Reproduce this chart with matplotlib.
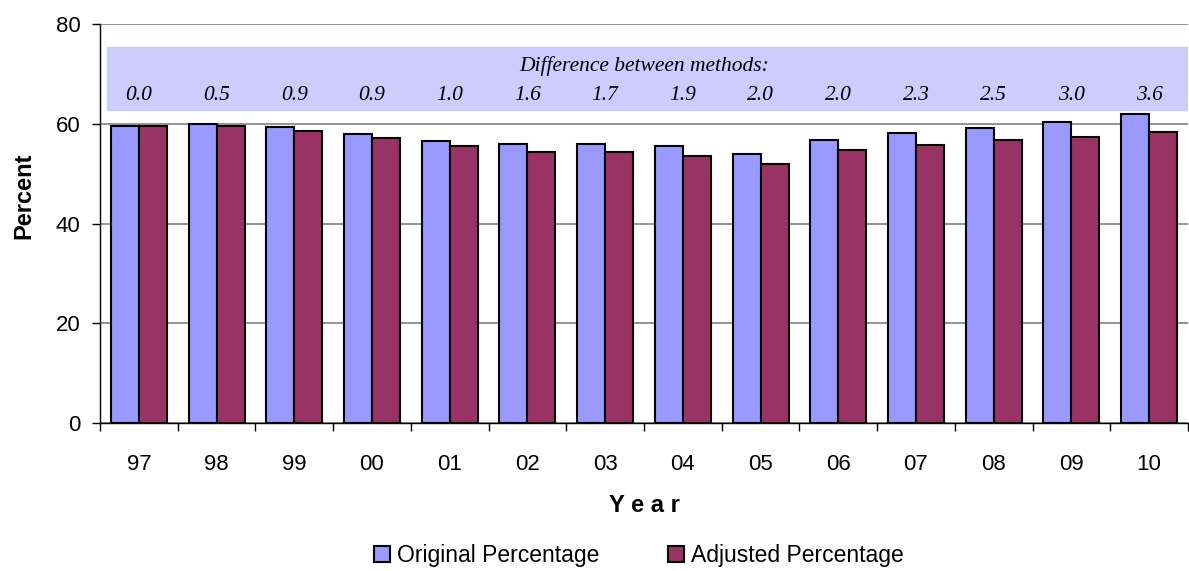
import numpy as np
import matplotlib.pyplot as plt
from matplotlib.ticker import FixedLocator

# Datos
years = ['97', '98', '99', '00', '01', '02', '03', '04', '05', '06', '07', '08', '09', '10']
original = [59.6, 60.0, 59.4, 58.0, 56.6, 56.0, 56.0, 55.5, 54.0, 56.8, 58.1, 59.2, 60.3, 62.0]
adjusted = [59.6, 59.5, 58.5, 57.1, 55.6, 54.4, 54.3, 53.6, 52.0, 54.8, 55.8, 56.7, 57.3, 58.4]
diffs = ['0.0', '0.5', '0.9', '0.9', '1.0', '1.6', '1.7', '1.9', '2.0', '2.0', '2.3', '2.5', '3.0', '3.6']

plt.rcParams['font.family'] = ['Liberation Sans', 'DejaVu Sans']

fig = plt.figure(figsize=(11.89, 5.71), dpi=100)
ax = fig.add_axes([0.0841, 0.259, 0.915, 0.699])

x = np.arange(len(years))
w = 0.36
ax.bar(x - w / 2, original, w, color='#9999FF', edgecolor='black', linewidth=1.5,
       label='Original Percentage', zorder=3)
ax.bar(x + w / 2, adjusted, w, color='#993366', edgecolor='black', linewidth=1.5,
       label='Adjusted Percentage', zorder=3)

# Banda con diferencias
ax.axhspan(62.7, 75.4, xmin=0.006, xmax=0.999, color='#CCCCFF', zorder=1)
ax.text(6.5, 71.5, 'Difference between methods:', ha='center', va='center',
        fontfamily='Liberation Serif', fontstyle='italic', fontsize=15.5, zorder=4)
for i, d in enumerate(diffs):
    ax.text(x[i], 65.7, d, ha='center', va='center',
            fontfamily='Liberation Serif', fontstyle='italic', fontsize=15.5, zorder=4)

ax.set_xlim(-0.5, len(years) - 0.5)
ax.set_ylim(0, 80)
ax.set_yticks([0, 20, 40, 60, 80])
ax.yaxis.grid(True, color='#808080', linewidth=1.2, zorder=0)
ax.set_axisbelow(True)

ax.set_xticks(x)
ax.set_xticklabels(years, fontsize=16)
ax.xaxis.set_minor_locator(FixedLocator(np.arange(-0.5, len(years), 1.0)))
ax.tick_params(axis='x', which='major', length=0, pad=22)
ax.tick_params(axis='x', which='minor', length=6, width=1, direction='out')
ax.tick_params(axis='y', labelsize=16, length=6, width=1, pad=8)

for s in ['top', 'right']:
    ax.spines[s].set_visible(False)
ax.spines['left'].set_linewidth(1)
ax.spines['bottom'].set_linewidth(1)

ax.set_ylabel('Percent', fontsize=17, fontweight='bold')
ax.yaxis.set_label_coords(-0.059, 0.569)
ax.set_xlabel('Y e a r', fontsize=17, fontweight='bold', labelpad=14)

ax.legend(loc='center', bbox_to_anchor=(0.495, -0.331), ncol=2, frameon=False,
          fontsize=16.5, handlelength=0.7, handleheight=0.7, columnspacing=3.0,
          handletextpad=0.3, borderaxespad=0)

plt.savefig('out.png', dpi=100)
